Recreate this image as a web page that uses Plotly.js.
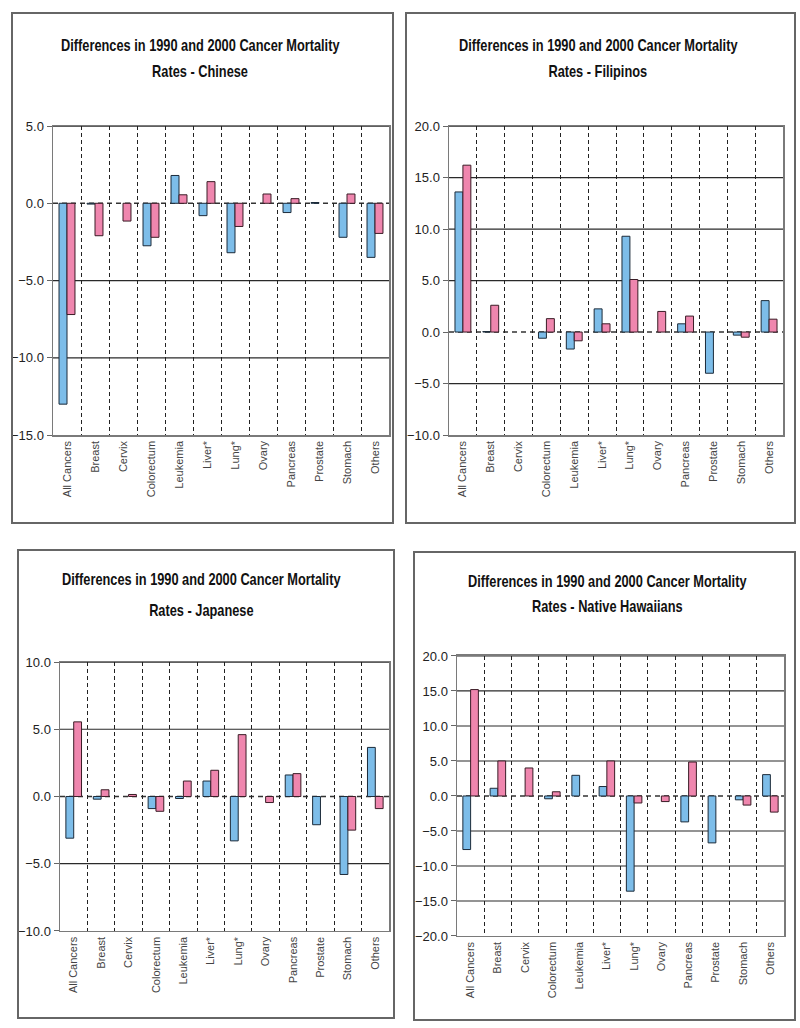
<!DOCTYPE html>
<html>
<head>
<meta charset="utf-8">
<script src="https://cdn.plot.ly/plotly-3.0.1.min.js"></script>
<style>
  html, body { margin: 0; padding: 0; background: #ffffff; }
  #chart { width: 800px; height: 1028px; }
  /* no narrow font installed, squeeze titles a bit */
  #chart .annotation-text { transform-box: fill-box; transform-origin: center; transform: scaleX(0.8); }
</style>
</head>
<body>
<div id="chart"></div>
<script>
const categories = ['All Cancers', 'Breast', 'Cervix', 'Colorectum', 'Leukemia', 'Liver*', 'Lung*', 'Ovary', 'Pancreas', 'Prostate', 'Stomach', 'Others'];

// null = no bar drawn for that category
const chineseMale = [-13.0, -0.05, null, -2.75, 1.8, -0.8, -3.2, null, -0.6, 0.05, -2.2, -3.5];
const chineseFemale = [-7.2, -2.1, -1.15, -2.2, 0.55, 1.4, -1.5, 0.6, 0.3, null, 0.6, -1.95];

const filipinoMale = [13.6, 0.05, null, -0.6, -1.65, 2.25, 9.3, null, 0.8, -4.0, -0.3, 3.05];
const filipinoFemale = [16.2, 2.6, null, 1.3, -0.85, 0.8, 5.1, 2.0, 1.55, null, -0.5, 1.25];

const japaneseMale = [-3.1, -0.2, null, -0.9, -0.15, 1.15, -3.3, null, 1.6, -2.1, -5.8, 3.65];
const japaneseFemale = [5.55, 0.5, 0.15, -1.1, 1.15, 1.95, 4.6, -0.45, 1.7, null, -2.5, -0.9];

const hawaiianMale = [-7.65, 1.1, null, -0.4, 2.95, 1.35, -13.6, null, -3.7, -6.7, -0.55, 3.05];
const hawaiianFemale = [15.2, 5.0, 4.0, 0.6, null, 5.0, -1.0, -0.8, 4.85, null, -1.3, -2.3];

const chineseTicks = [-15, -10, -5, 0, 5];
const filipinoTicks = [-10, -5, 0, 5, 10, 15, 20];
const japaneseTicks = [-10, -5, 0, 5, 10];
const hawaiianTicks = [-20, -15, -10, -5, 0, 5, 10, 15, 20];

const titleLine1 = 'Differences in 1990 and 2000 Cancer Mortality';

const sans = 'Liberation Sans, Arial, sans-serif';

// panel geometry in paper coords
const panels = [
    { name: 'Chinese', male: chineseMale, female: chineseFemale, ticks: chineseTicks,
      xDomain: [0.06625, 0.48625], yDomain: [0.5768, 0.8774],
      box: [0.015, 0.49125, 0.4912, 0.9874], titleX: 0.25, titleY: [0.9562, 0.930] },
    { name: 'Filipinos', male: filipinoMale, female: filipinoFemale, ticks: filipinoTicks,
      xDomain: [0.56125, 0.97875], yDomain: [0.5768, 0.8774],
      box: [0.5075, 0.99375, 0.4912, 0.9874], titleX: 0.7475, titleY: [0.9562, 0.930] },
    { name: 'Japanese', male: japaneseMale, female: japaneseFemale, ticks: japaneseTicks,
      xDomain: [0.075, 0.48625], yDomain: [0.0944, 0.356],
      box: [0.0225, 0.4925, 0.0097, 0.465], titleX: 0.2513, titleY: [0.4358, 0.4066] },
    { name: 'Native Hawaiians', male: hawaiianMale, female: hawaiianFemale, ticks: hawaiianTicks,
      xDomain: [0.57125, 0.98], yDomain: [0.0895, 0.3619],
      box: [0.5175, 0.99375, 0.0078, 0.463], titleX: 0.759, titleY: [0.4339, 0.4105] }
];

var data = [];
var layout = {
    width: 800,
    height: 1028,
    margin: { l: 0, r: 0, t: 0, b: 0 },
    paper_bgcolor: '#ffffff',
    plot_bgcolor: '#ffffff',
    showlegend: false,
    barmode: 'group',
    bargap: 0.43,
    bargroupgap: 0,
    shapes: [],
    annotations: []
};

panels.forEach((p, i) => {
    const n = i + 1;
    const xa = 'x' + n;
    const ya = 'y' + n;
    const xKey = 'xaxis' + (n === 1 ? '' : n);
    const yKey = 'yaxis' + (n === 1 ? '' : n);

    data.push({
        type: 'bar', x: categories, y: p.male, xaxis: xa, yaxis: ya, name: 'Male',
        marker: { color: '#7dbde9', line: { color: '#1c2b3a', width: 1 } },
        hoverinfo: 'none'
    });
    data.push({
        type: 'bar', x: categories, y: p.female, xaxis: xa, yaxis: ya, name: 'Female',
        marker: { color: '#ef86ae', line: { color: '#3a1c26', width: 1 } },
        hoverinfo: 'none'
    });

    layout[xKey] = {
        domain: p.xDomain,
        anchor: ya,
        type: 'category',
        tickson: 'boundaries',
        showgrid: true,
        gridcolor: '#222222',
        gridwidth: 1,
        griddash: '4px,3px',
        showline: true,
        linecolor: '#7a7a7a',
        linewidth: 1.5,
        mirror: true,
        ticks: '',
        tickangle: -90,
        tickfont: { family: sans, size: 11, color: '#444444' },
        fixedrange: true
    };
    layout[yKey] = {
        domain: p.yDomain,
        anchor: xa,
        range: [p.ticks[0], p.ticks[p.ticks.length - 1]],
        tickvals: p.ticks,
        tickformat: '.1f',
        showgrid: false,
        zeroline: false,
        showline: true,
        linecolor: '#7a7a7a',
        linewidth: 1.5,
        mirror: true,
        ticks: 'outside',
        ticklen: 5,
        tickcolor: '#666666',
        tickfont: { family: sans, size: 13, color: '#222222' },
        fixedrange: true
    };

    // solid horizontal grid at every tick but zero and the bottom edge
    p.ticks.slice(1).filter(v => v !== 0).forEach(v => {
        layout.shapes.push({
            type: 'line', xref: xa + ' domain', yref: ya, x0: 0, x1: 1, y0: v, y1: v,
            line: { color: '#2a2a2a', width: 1.2 }, layer: 'below'
        });
    });
    // dashed zero line
    layout.shapes.push({
        type: 'line', xref: xa + ' domain', yref: ya, x0: 0, x1: 1, y0: 0, y1: 0,
        line: { color: '#333333', width: 1.5, dash: '5px,4px' }, layer: 'below'
    });
    // panel border
    layout.shapes.push({
        type: 'rect', xref: 'paper', yref: 'paper',
        x0: p.box[0], x1: p.box[1], y0: p.box[2], y1: p.box[3],
        line: { color: '#666666', width: 2 }, fillcolor: 'rgba(0,0,0,0)'
    });

    layout.annotations.push({
        xref: 'paper', yref: 'paper', x: p.titleX, y: p.titleY[0],
        xanchor: 'center', yanchor: 'middle', showarrow: false,
        text: titleLine1,
        font: { family: sans, size: 16, weight: 'bold', color: '#111111' }
    });
    layout.annotations.push({
        xref: 'paper', yref: 'paper', x: p.titleX, y: p.titleY[1],
        xanchor: 'center', yanchor: 'middle', showarrow: false,
        text: 'Rates - ' + p.name,
        font: { family: sans, size: 16, weight: 'bold', color: '#111111' }
    });
});

Plotly.newPlot('chart', data, layout, { staticPlot: true });
</script>
</body>
</html>
